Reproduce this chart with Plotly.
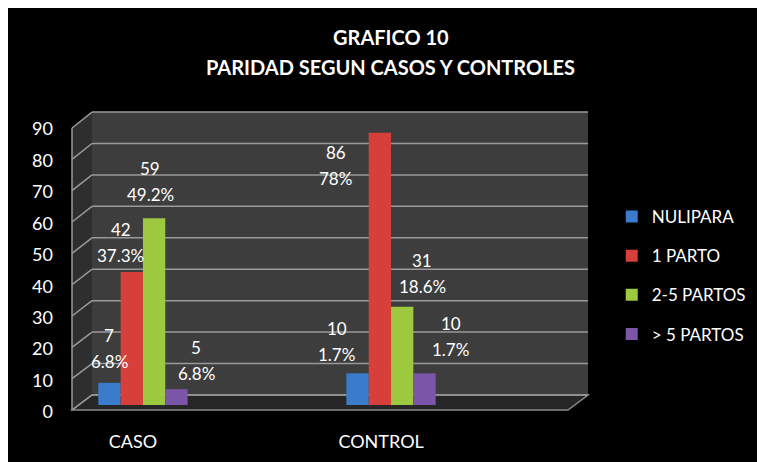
import plotly.graph_objects as go

# ---- data ----
categories = ["CASO", "CONTROL"]
series_names = ["NULIPARA", "1 PARTO", "2-5 PARTOS", "> 5 PARTOS"]
nulipara = [7, 10]
un_parto = [42, 86]
dos_cinco = [59, 31]
mas_cinco = [5, 10]
pct_nulipara = ["6.8%", "1.7%"]
pct_un_parto = ["37.3%", "78%"]
pct_dos_cinco = ["49.2%", "18.6%"]
pct_mas_cinco = ["6.8%", "1.7%"]
y_ticks = [0, 10, 20, 30, 40, 50, 60, 70, 80, 90]

values = [nulipara, un_parto, dos_cinco, mas_cinco]
pcts = [pct_nulipara, pct_un_parto, pct_dos_cinco, pct_mas_cinco]
colors = ["#3b7bcc", "#d63f3a", "#9cc93f", "#7b55a8"]

# label placement (style): [series][category] -> (xshift px, y in axis units)
label_pos = [
    [(0, 17.7), (-21, 19.9)],
    [(-11, 51.2), (-44, 75.5)],
    [(-4, 70.7), (20, 41.4)],
    [(20, 13.9), (26, 21.5)],
]

FONT = "Lato"
xs = list(range(len(categories)))
bargap = 0.64
bw = (1 - bargap) / len(series_names)

fig = go.Figure()
for i, name in enumerate(series_names):
    fig.add_trace(go.Bar(
        x=xs, y=values[i], name=name,
        marker=dict(color=colors[i], line=dict(width=0)),
        legendgroup=name,
    ))
# carrier for the front (tick-label) axis
fig.add_trace(go.Scatter(x=[None], y=[None], yaxis="y2", showlegend=False, hoverinfo="skip"))

annotations = []
for i in range(len(series_names)):
    for j, c in enumerate(xs):
        cx = c + (i - (len(series_names) - 1) / 2) * bw
        dx, yy = label_pos[i][j]
        annotations.append(dict(x=cx, y=yy, xref="x", yref="y", text=str(values[i][j]),
                                showarrow=False, xshift=dx, yshift=13,
                                font=dict(family=FONT, size=17, color="white")))
        annotations.append(dict(x=cx, y=yy, xref="x", yref="y", text=pcts[i][j],
                                showarrow=False, xshift=dx, yshift=-13,
                                font=dict(family=FONT, size=17, color="white")))

# title
annotations.append(dict(x=0.618, y=1.282, xref="paper", yref="paper", text="<b>GRAFICO 10</b>",
                        showarrow=False, xanchor="center", yanchor="middle",
                        font=dict(family=FONT, size=20, color="white")))
annotations.append(dict(x=0.618, y=1.180, xref="paper", yref="paper",
                        text="<b>PARIDAD SEGUN CASOS Y CONTROLES</b>",
                        showarrow=False, xanchor="center", yanchor="middle",
                        font=dict(family=FONT, size=20, color="white")))

# 3D-looking walls (decoration), plot area height 295 px
H = 295.0
def py(px_from_bottom):
    return px_from_bottom / H

dx3 = 20 / 516.0
back0 = 20.0      # back wall zero, px above plot bottom
front0 = 5.0      # front axis zero
back_step = 3.144
front_step = 3.133
shapes = []
# left wall
shapes.append(dict(type="path", xref="paper", yref="paper",
                   path=f"M 0 {py(front0)} L {dx3} {py(back0)} L {dx3} {py(back0+90*back_step)} L 0 {py(front0+90*front_step)} Z",
                   fillcolor="#2e2e2e", line=dict(width=0), layer="below"))
# back wall
shapes.append(dict(type="rect", xref="paper", yref="paper", x0=dx3, x1=1.0,
                   y0=py(back0), y1=py(back0 + 90 * back_step),
                   fillcolor="#3d3d3d", line=dict(width=0), layer="below"))
# floor
shapes.append(dict(type="path", xref="paper", yref="paper",
                   path=f"M 0 {py(front0)} L {dx3} {py(back0)} L 1 {py(back0)} L {1-dx3} {py(front0)} Z",
                   fillcolor="#262626", line=dict(color="#8a8a8a", width=1.5), layer="below"))
# gridlines on the back wall + diagonal connectors on left wall
for t in y_ticks:
    yb = py(back0 + t * back_step)
    yf = py(front0 + t * front_step)
    shapes.append(dict(type="line", xref="paper", yref="paper", x0=dx3, x1=1.0,
                       y0=yb, y1=yb, line=dict(color="#9a9a9a", width=1.5), layer="below"))
    shapes.append(dict(type="line", xref="paper", yref="paper", x0=0, x1=dx3,
                       y0=yf, y1=yb, line=dict(color="#9a9a9a", width=1.5), layer="below"))
# front left axis line
shapes.append(dict(type="line", xref="paper", yref="paper", x0=0, x1=0,
                   y0=py(front0), y1=py(front0 + 90 * front_step),
                   line=dict(color="#9a9a9a", width=1.5), layer="below"))

fig.update_layout(
    width=757, height=454,
    margin=dict(l=64, r=177, t=112, b=47, autoexpand=False),
    paper_bgcolor="black",
    plot_bgcolor="rgba(0,0,0,0)",
    barmode="group", bargap=bargap, bargroupgap=0,
    showlegend=True,
    legend=dict(x=1.046, y=0.732, xanchor="left", yanchor="top",
                font=dict(family=FONT, size=17, color="white"),
                bgcolor="rgba(0,0,0,0)", tracegroupgap=14, itemwidth=30),
    xaxis=dict(range=[-0.286, 1.794], tickvals=[c - 0.04 for c in xs], ticktext=categories,
               showgrid=False, zeroline=False, showline=False,
               tickfont=dict(family=FONT, size=18, color="white"), ticks="", ticklabelstandoff=14),
    yaxis=dict(range=[-3.16, 90], showgrid=False, zeroline=False, showline=False,
               showticklabels=False, ticks=""),
    yaxis2=dict(overlaying="y", side="left", range=[-0.95, 92.86], tickvals=y_ticks,
                showgrid=False, zeroline=False, showline=False,
                tickfont=dict(family=FONT, size=18, color="white"), ticks="", ticklabelstandoff=18),
    shapes=shapes,
    annotations=annotations,
)

fig.write_html("out.html")
